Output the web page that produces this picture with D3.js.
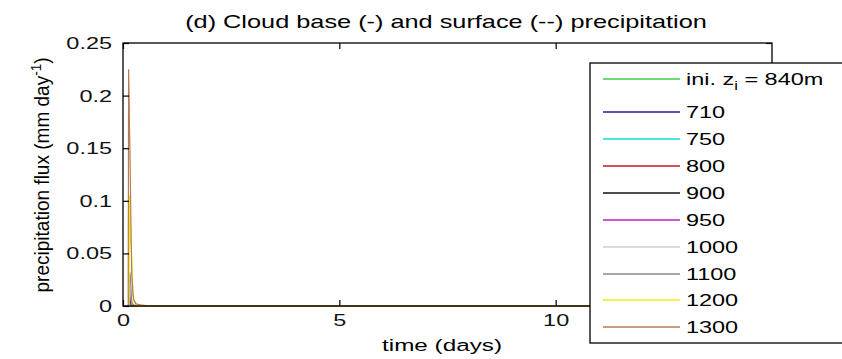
<!DOCTYPE html>
<html>
<head>
<meta charset="utf-8">
<script src="https://cdn.jsdelivr.net/npm/d3@7"></script>
<style>
  body { margin: 0; background: #fff; }
  svg { font-family: "Liberation Sans", Arial, sans-serif; }
</style>
</head>
<body>
<svg id="chart" width="842" height="359"></svg>
<script>
// time axis (days) shared by every run
const times = [0, 0.1, 0.12, 0.13, 0.14, 0.15, 0.16, 0.17, 0.18, 0.19, 0.2, 0.21, 0.22, 0.23, 0.25, 0.3, 0.4, 0.6, 1, 15];

const labels = ["ini. z_i = 840m", "710", "750", "800", "900", "950", "1000", "1100", "1200", "1300"];
const colors = ["#3fcf3f", "#1c1c96", "#16dcdc", "#c81818", "#111111", "#c21cc2", "#cccccc", "#888888", "#f2ea10", "#b87a50"];

// cloud base precipitation per run (mm/day)
const cloudBase = [
  [0, 0, 0, 0, 0.002, 0.004, 0.005, 0.004, 0.003, 0.002, 0.001, 0, 0, 0, 0, 0, 0, 0, 0, 0],
  [0, 0, 0, 0, 0, 0.001, 0.002, 0.002, 0.001, 0.001, 0, 0, 0, 0, 0, 0, 0, 0, 0, 0],
  [0, 0, 0, 0, 0, 0.002, 0.003, 0.003, 0.002, 0.001, 0, 0, 0, 0, 0, 0, 0, 0, 0, 0],
  [0, 0, 0, 0, 0.003, 0.006, 0.008, 0.006, 0.004, 0.002, 0.001, 0, 0, 0, 0, 0, 0, 0, 0, 0],
  [0, 0, 0, 0, 0.004, 0.008, 0.01, 0.008, 0.006, 0.003, 0.001, 0, 0, 0, 0, 0, 0, 0, 0, 0],
  [0, 0, 0, 0, 0.005, 0.01, 0.012, 0.01, 0.007, 0.004, 0.002, 0, 0, 0, 0, 0, 0, 0, 0, 0],
  [0, 0, 0, 0, 0.008, 0.015, 0.018, 0.014, 0.01, 0.006, 0.003, 0.001, 0, 0, 0, 0, 0, 0, 0, 0],
  [0, 0, 0, 0, 0.01, 0.025, 0.032, 0.028, 0.02, 0.012, 0.006, 0.002, 0.001, 0, 0, 0, 0, 0, 0, 0],
  [0, 0, 0, 0, 0, 0.105, 0.095, 0.08, 0.06, 0.058, 0.05, 0.035, 0.02, 0.01, 0.004, 0.001, 0, 0, 0, 0],
  [0, 0, 0, 0.225, 0.2, 0.17, 0.15, 0.12, 0.09, 0.06, 0.035, 0.025, 0.02, 0.012, 0.006, 0.002, 0.001, 0, 0, 0]
];

// surface precipitation (dashed), almost nothing reaches the ground
const surface = [
  [0, 0, 0, 0, 0, 0, 0, 0, 0, 0, 0, 0, 0, 0, 0, 0, 0, 0, 0, 0],
  [0, 0, 0, 0, 0, 0, 0, 0, 0, 0, 0, 0, 0, 0, 0, 0, 0, 0, 0, 0],
  [0, 0, 0, 0, 0, 0, 0, 0, 0, 0, 0, 0, 0, 0, 0, 0, 0, 0, 0, 0],
  [0, 0, 0, 0, 0, 0, 0, 0, 0, 0, 0, 0, 0, 0, 0, 0, 0, 0, 0, 0],
  [0, 0, 0, 0, 0, 0, 0, 0, 0, 0, 0, 0, 0, 0, 0, 0, 0, 0, 0, 0],
  [0, 0, 0, 0, 0, 0, 0, 0, 0, 0, 0, 0, 0, 0, 0, 0, 0, 0, 0, 0],
  [0, 0, 0, 0, 0, 0, 0, 0, 0, 0, 0, 0, 0, 0, 0, 0, 0, 0, 0, 0],
  [0, 0, 0, 0, 0, 0, 0, 0, 0, 0, 0, 0, 0, 0, 0, 0, 0, 0, 0, 0],
  [0, 0, 0, 0, 0, 0, 0, 0, 0.001, 0.002, 0.003, 0.003, 0.002, 0.002, 0.001, 0, 0, 0, 0, 0],
  [0, 0, 0, 0, 0, 0.001, 0.002, 0.004, 0.005, 0.005, 0.004, 0.003, 0.003, 0.002, 0.001, 0.001, 0, 0, 0, 0]
];

const xTicks = [0, 5, 10];
const yTicks = [0, 0.05, 0.1, 0.15, 0.2, 0.25];

const margin = { top: 43, right: 70, bottom: 53, left: 123 };
const width = 842, height = 359;
const SX = 1.38;   // the picture is stretched sideways
const FS = 17;

const svg = d3.select("#chart");

const x = d3.scaleLinear()
  .domain([0, 15])
  .range([margin.left, width - margin.right]);

const y = d3.scaleLinear()
  .domain([0, 0.25])
  .range([height - margin.bottom, margin.top]);

const line = d3.line()
  .x((d, i) => x(times[i]))
  .y(d => y(d));

// text stretched to a given length
function fitText(g, target) {
  const t = g.select("text");
  const w = t.node().getBBox().width;
  const s = target / w;
  return s;
}

// data lines
const gLines = svg.append("g").attr("fill", "none");
surface.forEach((vals, k) => {
  gLines.append("path")
    .attr("d", line(vals))
    .attr("stroke", colors[k])
    .attr("stroke-width", 1)
    .attr("stroke-dasharray", "4,3");
});
cloudBase.forEach((vals, k) => {
  gLines.append("path")
    .attr("d", line(vals))
    .attr("stroke", colors[k])
    .attr("stroke-width", 1.2);
});

// box with inward ticks
const x0 = x.range()[0], x1 = x.range()[1];
const y0 = y.range()[0], y1 = y.range()[1];

svg.append("rect")
  .attr("x", x0).attr("y", y1)
  .attr("width", x1 - x0).attr("height", y0 - y1)
  .attr("fill", "none").attr("stroke", "#000").attr("stroke-width", 1.3);

const bottomAxis = svg.append("g")
  .attr("transform", `translate(0,${y0})`)
  .call(d3.axisBottom(x).tickValues(xTicks).tickSize(-6).tickPadding(8).tickFormat(d3.format("d")));
const topAxis = svg.append("g")
  .attr("transform", `translate(0,${y1})`)
  .call(d3.axisTop(x).tickValues(xTicks).tickSize(-6).tickFormat(""));
const leftAxis = svg.append("g")
  .attr("transform", `translate(${x0},0)`)
  .call(d3.axisLeft(y).tickValues(yTicks).tickSize(-6).tickPadding(8).tickFormat(d => d === 0 ? "0" : String(d)));
const rightAxis = svg.append("g")
  .attr("transform", `translate(${x1},0)`)
  .call(d3.axisRight(y).tickValues(yTicks).tickSize(-6).tickFormat(""));

[bottomAxis, topAxis, leftAxis, rightAxis].forEach(a => {
  a.select(".domain").remove();
  a.selectAll(".tick line").attr("stroke", "#000").attr("stroke-width", 1.2);
  a.selectAll("text").attr("font-size", FS).attr("fill", "#111")
    .attr("font-family", "'Liberation Sans', Arial, sans-serif")
    .attr("transform", `scale(${SX},1)`);
});

// title
const gt = svg.append("g");
gt.append("text")
  .attr("text-anchor", "middle")
  .attr("font-size", 18)
  .text("(d) Cloud base (-) and surface (--) precipitation");
gt.attr("transform", `translate(446,28) scale(${fitText(gt, 522)},1)`);

// x label
const gx = svg.append("g");
gx.append("text")
  .attr("text-anchor", "middle")
  .attr("font-size", FS)
  .text("time (days)");
gx.attr("transform", `translate(442,351) scale(${fitText(gx, 120)},1)`);

// y label
const gy = svg.append("g");
const yl = gy.append("text")
  .attr("text-anchor", "middle")
  .attr("font-size", FS);
yl.append("tspan").text("precipitation flux (mm day");
yl.append("tspan").attr("dy", -7).attr("font-size", 12).text("-1");
yl.append("tspan").attr("dy", 7).text(")");
gy.attr("transform", `translate(49,175) rotate(-90) scale(${fitText(gy, 235)},1.2)`);

// legend
const lg = svg.append("g");
lg.append("rect")
  .attr("x", 590).attr("y", 63)
  .attr("width", 270).attr("height", 280)
  .attr("fill", "#fff").attr("stroke", "#000").attr("stroke-width", 1.3);

const rowY = [79, 112, 139, 166, 193, 220, 247, 274, 300, 327];
labels.forEach((lab, k) => {
  lg.append("line")
    .attr("x1", 603).attr("x2", 680)
    .attr("y1", rowY[k]).attr("y2", rowY[k])
    .attr("stroke", colors[k]).attr("stroke-width", 1.3);
  const g = lg.append("g")
    .attr("transform", `translate(686,${rowY[k] + 6}) scale(${SX},1)`);
  const t = g.append("text").attr("font-size", FS);
  if (lab.includes("z_i")) {
    t.append("tspan").text("ini. z");
    t.append("tspan").attr("dy", 5).attr("font-size", 12).text("i");
    t.append("tspan").attr("dy", -5).text(" = 840m");
  } else {
    t.text(lab);
  }
});
</script>
</body>
</html>
